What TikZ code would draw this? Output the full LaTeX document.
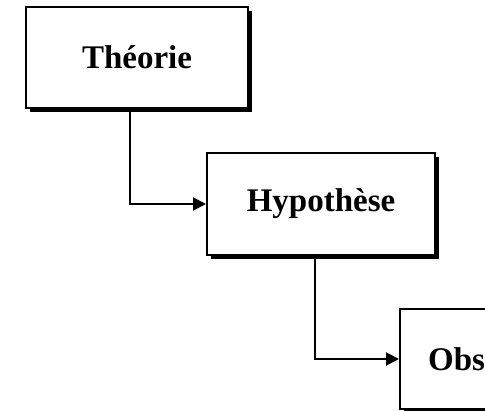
\documentclass[tikz,border=0pt]{standalone}
\usepackage{fontspec}
\setmainfont{Liberation Serif}
\usetikzlibrary{arrows.meta,shadows}
\begin{document}
\begin{tikzpicture}[x=1pt,y=1pt,
  box/.style={draw=black, line width=2pt, fill=white, rectangle, inner sep=0pt,
    drop shadow={shadow xshift=4pt, shadow yshift=-4pt, fill=black, opacity=1}},
  lbl/.style={font=\fontsize{33}{38}\selectfont\bfseries, inner sep=0pt},
  conn/.style={line width=2pt, -{Triangle[length=13pt,width=13pt]}}]
\useasboundingbox (0,0) rectangle (485,-411);
\clip (0,0) rectangle (485,-411);
\node[box, minimum width=222pt, minimum height=101pt, lbl] (t) at (137,-57.5) {Théorie};
\node[box, minimum width=228pt, minimum height=102pt, lbl] (h) at (321,-204) {Hypothèse};
\node[box, minimum width=220pt, minimum height=100pt, anchor=north west] (o) at (399,-308) {};
\node[lbl, anchor=west] (ol) at ([xshift=29pt]o.west) {Obs};
\draw[conn] ([xshift=-7pt]t.south) |- (h.west);
\draw[conn] ([xshift=-6pt]h.south) |- (o.west);
\end{tikzpicture}
\end{document}
